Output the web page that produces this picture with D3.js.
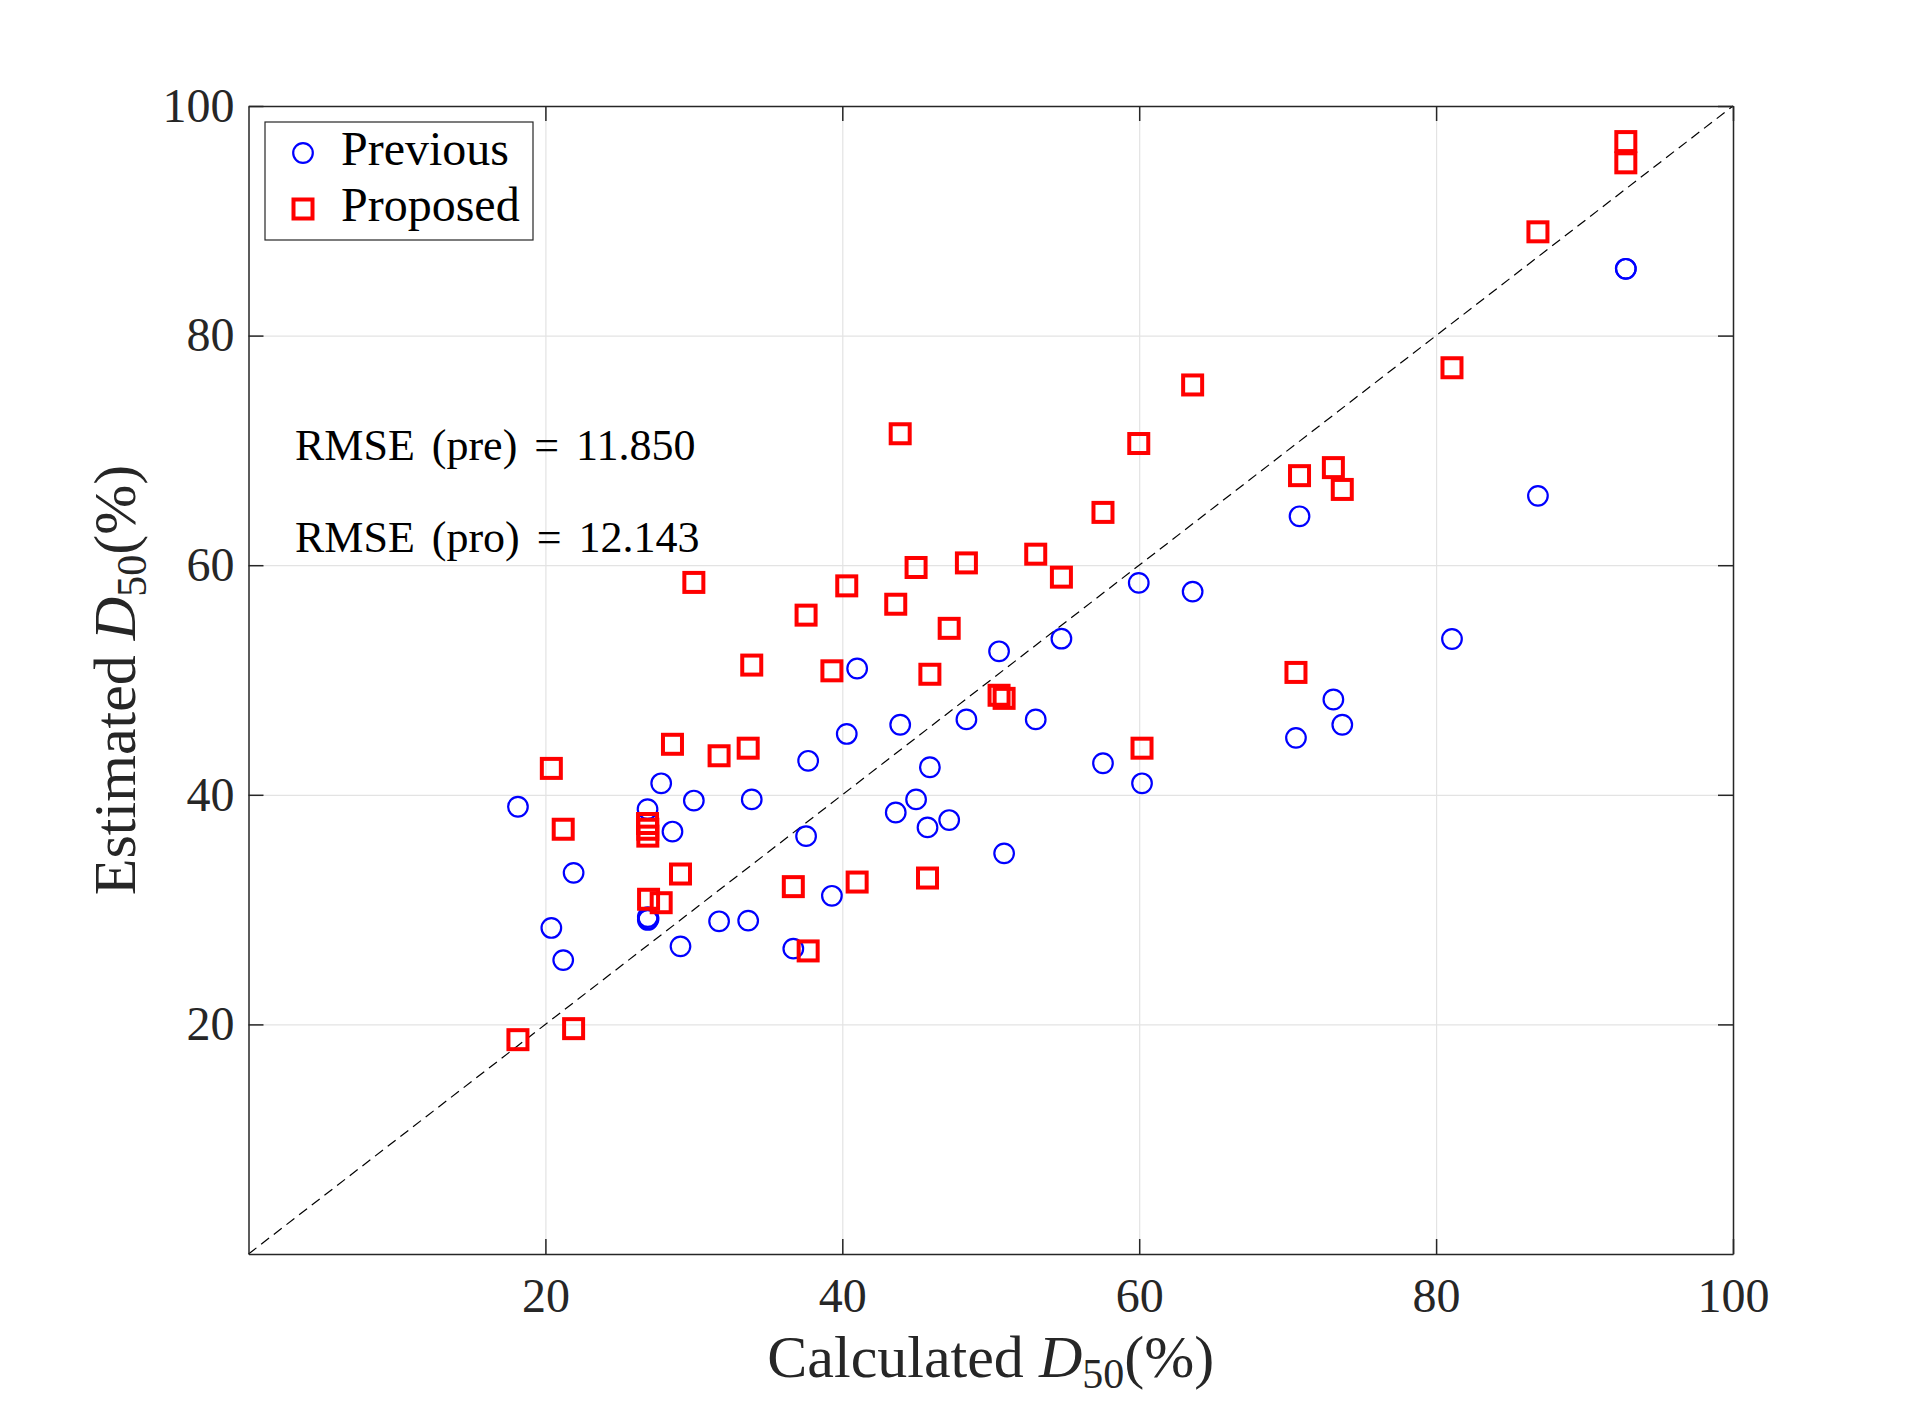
<!DOCTYPE html>
<html>
<head>
<meta charset="utf-8">
<script src="https://cdn.jsdelivr.net/npm/d3@7/dist/d3.min.js"></script>
<style>
  html, body { margin: 0; padding: 0; background: #ffffff; }
  svg { display: block; font-family: "Liberation Serif", "DejaVu Serif", serif; }
</style>
</head>
<body>
<svg id="chart" width="1915" height="1409"></svg>
<script>
(function() {
  // calculated D50 (x), shared by both series
  var calculated = [18.15, 20.4, 21.2, 21.9, 26.88, 26.9, 26.9, 26.95, 27.8, 28.56,
    29.1, 30.0, 31.7, 33.66, 33.9, 36.7, 37.56, 37.7, 39.3, 40.3,
    41.0, 43.6, 43.9, 44.97, 45.74, 45.9, 47.2, 48.36, 50.56, 50.9,
    53.03, 54.76, 57.56, 59.97, 60.19, 63.6, 70.56, 70.8, 73.08, 73.68,
    81.07, 86.86, 92.78, 92.78];

  // estimated D50, previous method
  var previous = [38.96, 28.4, 25.6, 33.2, 38.75, 29.35, 29.1, 29.2, 41.0, 36.8,
    26.8, 39.5, 28.98, 29.04, 39.6, 26.6, 36.4, 42.96, 31.2, 45.3,
    51.0, 38.46, 46.1, 39.6, 37.16, 42.4, 37.8, 46.57, 52.5, 34.9,
    46.57, 53.6, 42.75, 58.46, 41.0, 57.7, 44.96, 64.26, 48.3, 46.1,
    53.57, 66.04, 85.82, 85.82];

  // estimated D50, proposed method
  var proposed = [18.67, 42.3, 37.0, 19.63, 37.5, 37.0, 36.4, 30.9, 30.6, 44.4,
    33.1, 58.5, 43.4, 44.06, 51.3, 32.0, 55.65, 26.4, 50.8, 58.2,
    32.4, 56.6, 71.45, 59.8, 32.75, 50.5, 54.5, 60.2, 48.67, 48.4,
    60.96, 58.96, 64.6, 70.6, 44.06, 75.7, 50.66, 67.8, 68.5, 66.6,
    77.2, 89.04, 96.9, 95.05];

  var tickValues = [20, 40, 60, 80, 100];
  var seriesNames = ['Previous', 'Proposed'];
  var rmseLines = ['RMSE (pre) = 11.850', 'RMSE (pro) = 12.143'];

  var ink = '#262626';
  var svg = d3.select('#chart');
  var box = { left: 248.5, right: 1733, top: 106, bottom: 1254 };

  var x = d3.scaleLinear().domain([0, 100]).range([box.left, box.right]);
  var y = d3.scaleLinear().domain([0, 100]).range([box.bottom, box.top]);

  // grid
  svg.append('g')
    .attr('transform', 'translate(0,' + box.bottom + ')')
    .call(d3.axisBottom(x).tickValues(tickValues).tickSize(-(box.bottom - box.top)).tickFormat(''))
    .call(function(g) { g.select('.domain').remove(); g.selectAll('line').attr('stroke', '#e3e3e3').attr('stroke-width', 1.2); });
  svg.append('g')
    .attr('transform', 'translate(' + box.left + ',0)')
    .call(d3.axisLeft(y).tickValues(tickValues).tickSize(-(box.right - box.left)).tickFormat(''))
    .call(function(g) { g.select('.domain').remove(); g.selectAll('line').attr('stroke', '#e3e3e3').attr('stroke-width', 1.2); });

  // 1:1 line
  svg.append('line')
    .attr('x1', x(0)).attr('y1', y(0))
    .attr('x2', x(100)).attr('y2', y(100))
    .attr('stroke', '#000').attr('stroke-width', 1.2)
    .attr('stroke-dasharray', '10,6');

  var rows = calculated.map(function(c, i) {
    return { c: c, pre: previous[i], pro: proposed[i] };
  });

  svg.append('g').selectAll('circle')
    .data(rows).enter().append('circle')
    .attr('cx', function(d) { return x(d.c); })
    .attr('cy', function(d) { return y(d.pre); })
    .attr('r', 9.8)
    .attr('fill', 'none').attr('stroke', '#0000ff').attr('stroke-width', 2.2);

  var side = 19;
  svg.append('g').selectAll('rect')
    .data(rows).enter().append('rect')
    .attr('x', function(d) { return x(d.c) - side / 2; })
    .attr('y', function(d) { return y(d.pro) - side / 2; })
    .attr('width', side).attr('height', side)
    .attr('fill', 'none').attr('stroke', '#ff0000').attr('stroke-width', 4);

  // axes with inward ticks, box on
  function styleAxis(g) {
    g.select('.domain').attr('stroke', ink).attr('stroke-width', 1.5);
    g.selectAll('.tick line').attr('stroke', ink).attr('stroke-width', 1.5);
    g.selectAll('.tick text').attr('fill', ink).attr('font-size', 48)
      .attr('font-family', '"Liberation Serif", serif');
  }
  svg.append('g')
    .attr('transform', 'translate(0,' + box.bottom + ')')
    .call(d3.axisBottom(x).tickValues(tickValues).tickSizeInner(-15).tickSizeOuter(0).tickPadding(24))
    .call(styleAxis);
  svg.append('g')
    .attr('transform', 'translate(' + box.left + ',0)')
    .call(d3.axisLeft(y).tickValues(tickValues).tickSizeInner(-15).tickSizeOuter(0).tickPadding(14))
    .call(styleAxis);
  svg.append('g')
    .attr('transform', 'translate(0,' + box.top + ')')
    .call(d3.axisTop(x).tickValues(tickValues).tickSizeInner(-15).tickSizeOuter(0).tickFormat(''))
    .call(styleAxis);
  svg.append('g')
    .attr('transform', 'translate(' + box.right + ',0)')
    .call(d3.axisRight(y).tickValues(tickValues).tickSizeInner(-15).tickSizeOuter(0).tickFormat(''))
    .call(styleAxis);

  // axis labels
  function label(t, word) {
    t.attr('fill', ink).attr('font-size', 60);
    t.append('tspan').text(word + ' ');
    t.append('tspan').attr('font-style', 'italic').text('D');
    t.append('tspan').attr('font-size', 42).attr('dy', 11).text('50');
    t.append('tspan').attr('dy', -11).text('(%)');
  }
  svg.append('text')
    .attr('x', (box.left + box.right) / 2).attr('y', 1377)
    .attr('text-anchor', 'middle')
    .call(label, 'Calculated');
  svg.append('text')
    .attr('transform', 'translate(135,' + (box.top + box.bottom) / 2 + ') rotate(-90)')
    .attr('text-anchor', 'middle')
    .call(label, 'Estimated');

  // RMSE annotations
  svg.append('g').selectAll('text')
    .data(rmseLines).enter().append('text')
    .attr('x', 295)
    .attr('y', function(d, i) { return 460 + i * 92; })
    .attr('fill', '#000').attr('font-size', 44)
    .attr('word-spacing', 6)
    .text(function(d) { return d; });

  // legend
  var legend = svg.append('g');
  legend.append('rect')
    .attr('x', 265).attr('y', 122).attr('width', 268).attr('height', 118)
    .attr('fill', '#fff').attr('stroke', ink).attr('stroke-width', 1.2);
  legend.append('circle')
    .attr('cx', 303).attr('cy', 153).attr('r', 9.8)
    .attr('fill', 'none').attr('stroke', '#0000ff').attr('stroke-width', 2.2);
  legend.append('rect')
    .attr('x', 303 - side / 2).attr('y', 209 - side / 2).attr('width', side).attr('height', side)
    .attr('fill', 'none').attr('stroke', '#ff0000').attr('stroke-width', 4);
  legend.selectAll('text.name')
    .data(seriesNames).enter().append('text')
    .attr('class', 'name')
    .attr('x', 341)
    .attr('y', function(d, i) { return 165 + i * 56; })
    .attr('fill', '#000').attr('font-size', 48)
    .text(function(d) { return d; });
})();
</script>
</body>
</html>
